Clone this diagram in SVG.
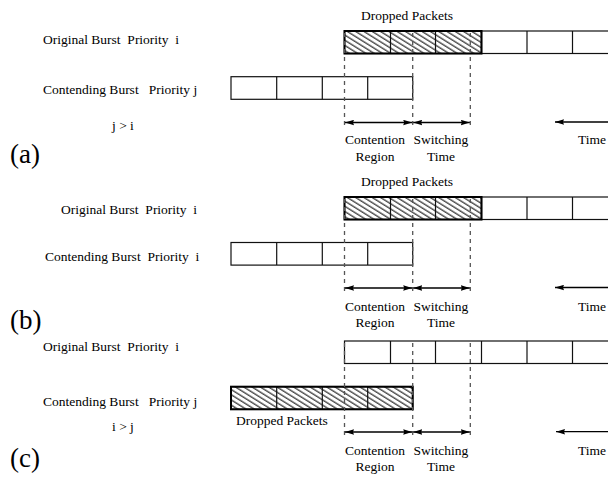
<svg xmlns="http://www.w3.org/2000/svg" width="608" height="481" viewBox="0 0 608 481">
<style>
text{font-family:"Liberation Serif","Times New Roman",serif;font-size:13.5px;fill:#000;white-space:pre}
.big{font-size:27px}
.mid{text-anchor:middle}
.cell{fill:#fff;stroke:#111;stroke-width:1.2}
.hatch{fill:url(#hatch);stroke:#111;stroke-width:1.2}
.outline{fill:none;stroke:#000;stroke-width:2}
.sep{stroke:#111;stroke-width:1.2}
.dash{stroke:#555;stroke-width:1.3;stroke-dasharray:4 4;fill:none}
.arr{stroke:#000;stroke-width:1.3;fill:none;marker-start:url(#ah);marker-end:url(#ah)}
.tarr{stroke:#000;stroke-width:1.3;fill:none;marker-start:url(#ah)}
</style>
<defs>
<pattern id="hatch" patternUnits="userSpaceOnUse" width="8" height="4.4" patternTransform="rotate(32)">
<rect width="8" height="4.4" fill="#fff"/>
<line x1="0" y1="1" x2="8" y2="1" stroke="#000" stroke-width="1"/>
</pattern>
<marker id="ah" markerUnits="userSpaceOnUse" markerWidth="10" markerHeight="6" refX="9" refY="3" orient="auto-start-reverse">
<path d="M0,0.3 L9,3 L0,5.7 L1,3 z" fill="#000"/>
</marker>
</defs>

<!-- Panel (a) -->
<g id="panel-a-labels">
<text x="43" y="43.5">Original Burst  Priority  i</text>
<text x="43" y="94">Contending Burst   Priority j</text>
<text x="112" y="130">j &gt; i</text>
<text class="big" x="10" y="163">(a)</text>
<text class="mid" x="407" y="20">Dropped Packets</text>
<text class="mid" x="375" y="144">Contention</text>
<text class="mid" x="375" y="160.5">Region</text>
<text class="mid" x="441" y="144">Switching</text>
<text class="mid" x="441" y="160.5">Time</text>
<text x="578" y="144">Time</text>
</g>
<g id="a-original-burst">
<rect class="hatch" x="344.5" y="31" width="137" height="22.5"/>
<rect class="cell" x="481.5" y="31" width="140" height="22.5"/>
<line class="sep" x1="390.5" y1="31" x2="390.5" y2="53.5"/>
<line class="sep" x1="435.5" y1="31" x2="435.5" y2="53.5"/>
<line class="sep" x1="527" y1="31" x2="527" y2="53.5"/>
<line class="sep" x1="572.5" y1="31" x2="572.5" y2="53.5"/>
<rect class="outline" x="344.5" y="31" width="137" height="22.5"/>
</g>
<g id="a-contending-burst">
<rect class="cell" x="231" y="76.7" width="181.7" height="22.6"/>
<line class="sep" x1="276.7" y1="76.7" x2="276.7" y2="99.3"/>
<line class="sep" x1="322.3" y1="76.7" x2="322.3" y2="99.3"/>
<line class="sep" x1="367.7" y1="76.7" x2="367.7" y2="99.3"/>
</g>
<g id="a-connectors">
<line class="dash" x1="344.5" y1="33" x2="344.5" y2="126.5"/>
<line class="dash" x1="412.7" y1="33" x2="412.7" y2="126.5"/>
<line class="dash" x1="470.3" y1="33" x2="470.3" y2="126.5"/>
<line class="arr" x1="345" y1="122.5" x2="412.2" y2="122.5"/>
<line class="arr" x1="413.2" y1="122.5" x2="469.8" y2="122.5"/>
<line class="tarr" x1="555" y1="122" x2="608" y2="122"/>
</g>

<!-- Panel (b) -->
<g id="panel-b-labels">
<text x="61" y="214">Original Burst  Priority  i</text>
<text x="45" y="261">Contending Burst  Priority  i</text>
<text class="big" x="10" y="329">(b)</text>
<text class="mid" x="407" y="186">Dropped Packets</text>
<text class="mid" x="375" y="310.5">Contention</text>
<text class="mid" x="375" y="327">Region</text>
<text class="mid" x="441" y="310.5">Switching</text>
<text class="mid" x="441" y="327">Time</text>
<text x="578" y="310.5">Time</text>
</g>
<g id="b-original-burst">
<rect class="hatch" x="344.5" y="197" width="137" height="22.5"/>
<rect class="cell" x="481.5" y="197" width="140" height="22.5"/>
<line class="sep" x1="390.5" y1="197" x2="390.5" y2="219.5"/>
<line class="sep" x1="435.5" y1="197" x2="435.5" y2="219.5"/>
<line class="sep" x1="527" y1="197" x2="527" y2="219.5"/>
<line class="sep" x1="572.5" y1="197" x2="572.5" y2="219.5"/>
<rect class="outline" x="344.5" y="197" width="137" height="22.5"/>
</g>
<g id="b-contending-burst">
<rect class="cell" x="231" y="242.5" width="181.7" height="22.6"/>
<line class="sep" x1="276.7" y1="242.5" x2="276.7" y2="265.1"/>
<line class="sep" x1="322.3" y1="242.5" x2="322.3" y2="265.1"/>
<line class="sep" x1="367.7" y1="242.5" x2="367.7" y2="265.1"/>
</g>
<g id="b-connectors">
<line class="dash" x1="344.5" y1="199" x2="344.5" y2="292"/>
<line class="dash" x1="412.7" y1="199" x2="412.7" y2="292"/>
<line class="dash" x1="470.3" y1="199" x2="470.3" y2="292"/>
<line class="arr" x1="345" y1="288" x2="412.2" y2="288"/>
<line class="arr" x1="413.2" y1="288" x2="469.8" y2="288"/>
<line class="tarr" x1="555" y1="287.5" x2="608" y2="287.5"/>
</g>

<!-- Panel (c) -->
<g id="panel-c-labels">
<text x="43" y="350.5">Original Burst  Priority  i</text>
<text x="43" y="405.5">Contending Burst   Priority j</text>
<text x="112" y="431">i &gt; j</text>
<text class="big" x="10" y="467">(c)</text>
<text x="236" y="425">Dropped Packets</text>
<text class="mid" x="375" y="454.5">Contention</text>
<text class="mid" x="375" y="471">Region</text>
<text class="mid" x="441" y="454.5">Switching</text>
<text class="mid" x="441" y="471">Time</text>
<text x="578" y="454.5">Time</text>
</g>
<g id="c-original-burst">
<rect class="cell" x="344.5" y="341" width="277" height="22.5"/>
<line class="sep" x1="390.5" y1="341" x2="390.5" y2="363.5"/>
<line class="sep" x1="435.5" y1="341" x2="435.5" y2="363.5"/>
<line class="sep" x1="481.5" y1="341" x2="481.5" y2="363.5"/>
<line class="sep" x1="527" y1="341" x2="527" y2="363.5"/>
<line class="sep" x1="572.5" y1="341" x2="572.5" y2="363.5"/>
</g>
<g id="c-contending-burst">
<rect class="hatch" x="231" y="386.7" width="181.7" height="22.6"/>
<line class="sep" x1="276.7" y1="386.7" x2="276.7" y2="409.3"/>
<line class="sep" x1="322.3" y1="386.7" x2="322.3" y2="409.3"/>
<line class="sep" x1="367.7" y1="386.7" x2="367.7" y2="409.3"/>
<rect class="outline" x="231" y="386.7" width="181.7" height="22.6"/>
</g>
<g id="c-connectors">
<line class="dash" x1="344.5" y1="343" x2="344.5" y2="436"/>
<line class="dash" x1="412.7" y1="343" x2="412.7" y2="436"/>
<line class="dash" x1="470.3" y1="343" x2="470.3" y2="436"/>
<line class="arr" x1="345" y1="432" x2="412.2" y2="432"/>
<line class="arr" x1="413.2" y1="432" x2="469.8" y2="432"/>
<line class="tarr" x1="556" y1="431.7" x2="608" y2="431.7"/>
</g>
</svg>
